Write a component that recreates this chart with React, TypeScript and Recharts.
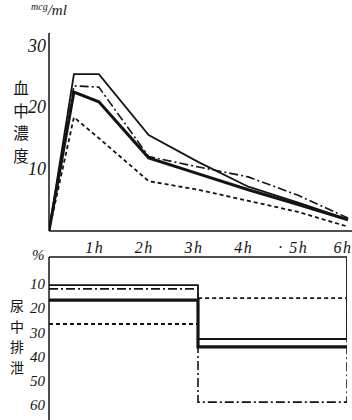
import { LineChart, Line, XAxis, YAxis } from 'recharts';

// blood concentration (mcg/ml)
const HOURS = [0, 0.5, 1, 2, 3, 4, 5, 6];
const bloodThin = [0, 25.5, 25.5, 15.6, 11.2, 7.2, 4.6, 1.9];
const bloodDashDot = [0, 23.6, 23.4, 12.1, 10.4, 8.8, 5.8, 2.1];
const bloodHeavy = [0, 22.6, 21.0, 11.9, 9.3, 6.7, 4.3, 1.8];
const bloodDotted = [0, 18.5, 15.1, 8.1, 6.7, 4.9, 3.1, 0.7];
const BLOOD_TICKS = [10, 20, 30];

// urinary excretion (%), per period 0-3h and 3-6h
const URINE_TIMES = [0, 3, 6];
const urineThin = [11.6, 33.9];
const urineDashDot = [13.2, 60];
const urineHeavy = [17.8, 37.2];
const urineDotted = [27.7, 17.0];
const URINE_TICKS = [10, 20, 30, 40, 50, 60];
const HOUR_TICKS = [1, 2, 3, 4, 5, 6];
const HOUR_LABELS = ['1h', '2h', '3h', '4h', '· 5h', '6h'];

const INK = '#141414';
const NUM_FONT = '"Liberation Serif", "DejaVu Serif", serif';
const JP_FONT = '"Noto Sans CJK JP", "Noto Sans CJK SC", sans-serif';

const bloodRows = HOURS.map((t, i) => ({
  t,
  thin: bloodThin[i],
  dashDot: bloodDashDot[i],
  heavy: bloodHeavy[i],
  dotted: bloodDotted[i],
}));

// step outline for one series; optional closing edge at the last time
function stepRows(vals: number[], closeTo?: number) {
  const rows = [
    { t: URINE_TIMES[0], v: vals[0] },
    { t: URINE_TIMES[1], v: vals[1] },
    { t: URINE_TIMES[2], v: vals[1] },
  ];
  if (closeTo !== undefined) rows.push({ t: URINE_TIMES[2], v: closeTo });
  return rows;
}

const YTick = ({ x, y, payload, size, shift }: any) => (
  <text
    x={x}
    y={y}
    dy={shift}
    textAnchor="end"
    fontFamily={NUM_FONT}
    fontStyle="italic"
    fontSize={size}
    fill={INK}
  >
    {payload.value}
  </text>
);

const HourTick = ({ x, y, payload }: any) => (
  <text
    x={x - 4}
    y={y}
    textAnchor="middle"
    fontFamily={NUM_FONT}
    fontStyle="italic"
    fontSize={16}
    letterSpacing={1.5}
    fill={INK}
  >
    {HOUR_LABELS[HOUR_TICKS.indexOf(payload.value)]}
  </text>
);

const jpColumn = (chars: string[], left: number, top: number, size: number, step: number) => (
  <div style={{ position: 'absolute', left, top, width: 18, fontFamily: JP_FONT, fontSize: size, lineHeight: `${step}px`, textAlign: 'center', color: INK }}>
    {chars.map((c) => (
      <div key={c} style={{ height: step }}>{c}</div>
    ))}
  </div>
);

function App() {
  return (
    <div style={{ position: 'absolute', left: 0, top: 0, width: 352, height: 420, background: '#fff' }}>
      <div style={{ position: 'absolute', left: 31, top: 1, fontFamily: NUM_FONT, fontStyle: 'italic', color: INK, whiteSpace: 'nowrap' }}>
        <span style={{ fontSize: 10, verticalAlign: 'top' }}>mcg</span>
        <span style={{ fontSize: 15 }}>/ml</span>
      </div>
      {jpColumn(['血', '中', '濃', '度'], 12, 76, 15.5, 22.5)}
      <div style={{ position: 'absolute', left: 32, top: 247, fontFamily: NUM_FONT, fontStyle: 'italic', fontSize: 15, color: INK }}>%</div>
      {jpColumn(['尿', '中', '排', '泄'], 8, 295, 14, 20.7)}

      <div style={{ position: 'absolute', left: 0, top: 0 }}>
        <LineChart width={352} height={240} data={bloodRows} margin={{ top: 33, right: 0, left: 0, bottom: 8 }}>
          <XAxis
            type="number"
            dataKey="t"
            domain={[0, 6.08]}
            allowDataOverflow
            tick={false}
            tickLine={false}
            height={1}
            stroke={INK}
            strokeWidth={1.5}
          />
          <YAxis
            type="number"
            domain={[0, 32.2]}
            allowDataOverflow
            ticks={BLOOD_TICKS}
            width={49}
            tickSize={0}
            tickMargin={3}
            tickLine={false}
            stroke={INK}
            strokeWidth={1.5}
            tick={<YTick size={18} shift={5} />}
          />
          <Line dataKey="thin" stroke={INK} strokeWidth={1.8} dot={false} isAnimationActive={false} />
          <Line dataKey="dashDot" stroke={INK} strokeWidth={1.6} strokeDasharray="9 3 2 3" dot={false} isAnimationActive={false} />
          <Line dataKey="heavy" stroke={INK} strokeWidth={3} dot={false} isAnimationActive={false} />
          <Line dataKey="dotted" stroke={INK} strokeWidth={1.8} strokeDasharray="4 3" dot={false} isAnimationActive={false} />
        </LineChart>
      </div>

      <div style={{ position: 'absolute', left: 0, top: 240 }}>
        <LineChart width={352} height={180} margin={{ top: 0, right: 5, left: 0, bottom: 0 }}>
          <XAxis
            type="number"
            dataKey="t"
            orientation="top"
            domain={[0, 6]}
            allowDataOverflow
            ticks={HOUR_TICKS}
            height={17}
            tickSize={0}
            tickMargin={4}
            tickLine={false}
            stroke={INK}
            strokeWidth={1.5}
            tick={<HourTick />}
          />
          <YAxis
            type="number"
            domain={[0, 67.4]}
            reversed
            allowDataOverflow
            ticks={URINE_TICKS}
            width={49}
            tickSize={0}
            tickMargin={4}
            tickLine={false}
            stroke={INK}
            strokeWidth={1.5}
            tick={<YTick size={15} shift={8} />}
          />
          <Line data={stepRows(urineThin, 0)} dataKey="v" type="stepAfter" stroke={INK} strokeWidth={1.8} dot={false} isAnimationActive={false} />
          <Line data={stepRows(urineDashDot, urineDotted[1])} dataKey="v" type="stepAfter" stroke={INK} strokeWidth={1.6} strokeDasharray="9 3 2 3" dot={false} isAnimationActive={false} />
          <Line data={stepRows(urineHeavy)} dataKey="v" type="stepAfter" stroke={INK} strokeWidth={3.2} dot={false} isAnimationActive={false} />
          <Line data={stepRows(urineDotted)} dataKey="v" type="stepAfter" stroke={INK} strokeWidth={1.8} strokeDasharray="4 3" dot={false} isAnimationActive={false} />
        </LineChart>
      </div>
    </div>
  );
}

export default App;
